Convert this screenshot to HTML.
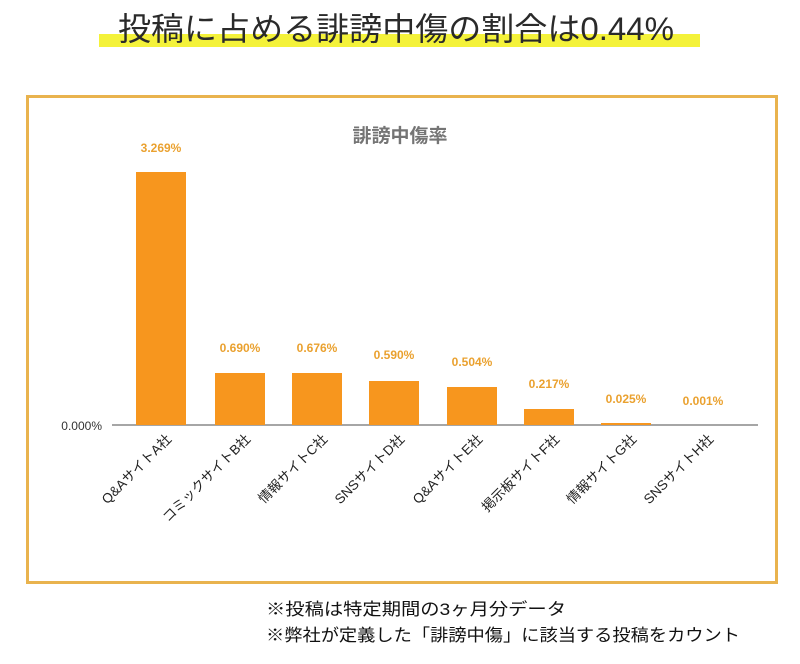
<!DOCTYPE html>
<html><head><meta charset="utf-8"><style>
body{margin:0;background:#fff;width:800px;height:659px;overflow:hidden;font-family:"Liberation Sans","Noto Sans CJK JP",sans-serif}
</style></head><body>
<svg width="800" height="659" viewBox="0 0 800 659" xmlns="http://www.w3.org/2000/svg" style="font-family:'Liberation Sans','Noto Sans CJK JP',sans-serif">
<rect x="99" y="34" width="601" height="13" fill="#f4f23a"/>
<text x="396" y="40" text-anchor="middle" font-size="32" textLength="556" lengthAdjust="spacingAndGlyphs" fill="#2a2a2a">投稿に占める誹謗中傷の割合は0.44%</text>
<rect x="27.5" y="96.5" width="749" height="486" fill="none" stroke="#e9b34e" stroke-width="3"/>
<text x="400" y="142" text-anchor="middle" font-size="19" font-weight="bold" fill="#757575">誹謗中傷率</text>
<line x1="112" y1="425" x2="758" y2="425" stroke="#888" stroke-width="1.5"/>
<text x="102" y="430" text-anchor="end" font-size="12" fill="#333">0.000%</text>
<g fill="#f7961e">
<rect x="136" y="172" width="50" height="253"/>
<rect x="215" y="373" width="50" height="52"/>
<rect x="292" y="373" width="50" height="52"/>
<rect x="369" y="381" width="50" height="44"/>
<rect x="447" y="387" width="50" height="38"/>
<rect x="524" y="409" width="50" height="16"/>
<rect x="601" y="423" width="50" height="2"/>
</g>
<g font-size="12" font-weight="bold" fill="#eaa12f" text-anchor="middle">
<text x="161" y="152">3.269%</text>
<text x="240" y="352">0.690%</text>
<text x="317" y="352">0.676%</text>
<text x="394" y="359">0.590%</text>
<text x="472" y="366">0.504%</text>
<text x="549" y="388">0.217%</text>
<text x="626" y="403">0.025%</text>
<text x="703" y="405">0.001%</text>
</g>
<g font-size="13.5" fill="#222" text-anchor="end">
<text transform="translate(172,440) rotate(-45)">Q&amp;AサイトA社</text>
<text transform="translate(251,440) rotate(-45)">コミックサイトB社</text>
<text transform="translate(328,440) rotate(-45)">情報サイトC社</text>
<text transform="translate(405,440) rotate(-45)">SNSサイトD社</text>
<text transform="translate(483,440) rotate(-45)">Q&amp;AサイトE社</text>
<text transform="translate(560,440) rotate(-45)">掲示板サイトF社</text>
<text transform="translate(637,440) rotate(-45)">情報サイトG社</text>
<text transform="translate(714,440) rotate(-45)">SNSサイトH社</text>
</g>
<g font-size="17" fill="#111">
<text x="266" y="615" textLength="300" lengthAdjust="spacingAndGlyphs">※投稿は特定期間の3ヶ月分データ</text>
<text x="266" y="641" textLength="474" lengthAdjust="spacingAndGlyphs">※弊社が定義した「誹謗中傷」に該当する投稿をカウント</text>
</g>
</svg>
</body></html>
